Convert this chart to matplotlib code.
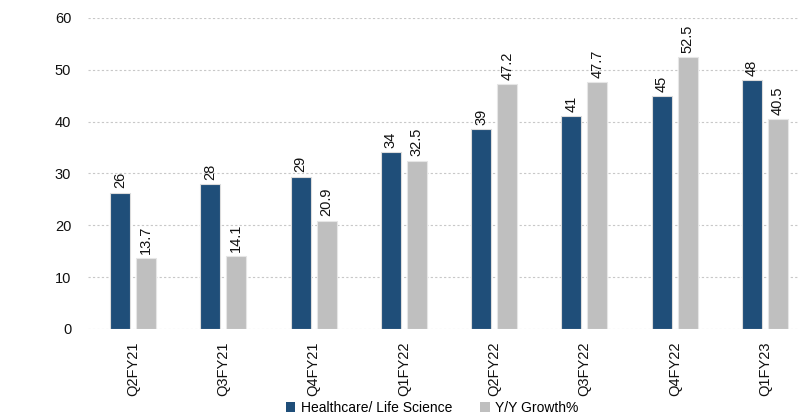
import matplotlib
matplotlib.use("Agg")
import matplotlib.pyplot as plt
from matplotlib.patches import Patch
import numpy as np

# Quarterly data
quarters = ["Q2FY21", "Q3FY21", "Q4FY21", "Q1FY22", "Q2FY22", "Q3FY22", "Q4FY22", "Q1FY23"]
healthcare_revenue = [26.3, 27.9, 29.4, 34.2, 38.6, 41.1, 45.0, 48.0]
yoy_growth = [13.7, 14.1, 20.9, 32.5, 47.2, 47.7, 52.5, 40.5]
y_ticks = [0, 10, 20, 30, 40, 50, 60]

NAVY = "#1f4e79"
GREY = "#bfbfbf"

plt.rcParams["font.family"] = ["Liberation Sans", "DejaVu Sans"]

fig = plt.figure(figsize=(7.99, 4.18), dpi=100)
ax = fig.add_axes([0.110, 0.213, 0.904, 0.744])

x = np.arange(len(quarters))
w = 0.222
off = 0.144
b1 = ax.bar(x - off, healthcare_revenue, width=w, color=NAVY,
            edgecolor="#dcdcdc", linewidth=0.8, zorder=3)
b2 = ax.bar(x + off, yoy_growth, width=w, color=GREY,
            edgecolor="#e6e6e6", linewidth=0.8, zorder=3)

for rect, v in zip(b1, healthcare_revenue):
    ax.annotate(f"{v:.0f}", (rect.get_x() + rect.get_width() / 2, rect.get_height()),
                xytext=(0, 3), textcoords="offset points", rotation=90,
                ha="center", va="bottom", fontsize=10.5, color="#111111")
for rect, v in zip(b2, yoy_growth):
    ax.annotate(f"{v:.1f}", (rect.get_x() + rect.get_width() / 2, rect.get_height()),
                xytext=(0, 3), textcoords="offset points", rotation=90,
                ha="center", va="bottom", fontsize=10.5, color="#111111")

ax.set_xlim(-0.5, len(quarters) - 0.5)
ax.set_ylim(0, 60)
ax.set_yticks(y_ticks)
ax.set_yticklabels([str(t) for t in y_ticks], fontsize=10.5)
ax.set_xticks(x)
ax.set_xticklabels(quarters, rotation=90, fontsize=10.5)
ax.tick_params(axis="both", length=0, colors="#111111")
ax.tick_params(axis="y", pad=12)
ax.tick_params(axis="x", pad=9)

ax.grid(axis="y", color="#c8c8c8", linestyle=(0, (2, 2)), linewidth=0.8, zorder=0)
for s in ax.spines.values():
    s.set_visible(False)

handles = [Patch(facecolor=NAVY, edgecolor="none"), Patch(facecolor=GREY, edgecolor="none")]
fig.legend(handles, ["Healthcare/ Life Science", "Y/Y Growth%"],
           loc="center", bbox_to_anchor=(0.541, 0.024), ncol=2, frameon=False,
           fontsize=10, handlelength=0.7, handleheight=0.7, handletextpad=0.4,
           columnspacing=2.0)

fig.savefig("out.png", dpi=100)
